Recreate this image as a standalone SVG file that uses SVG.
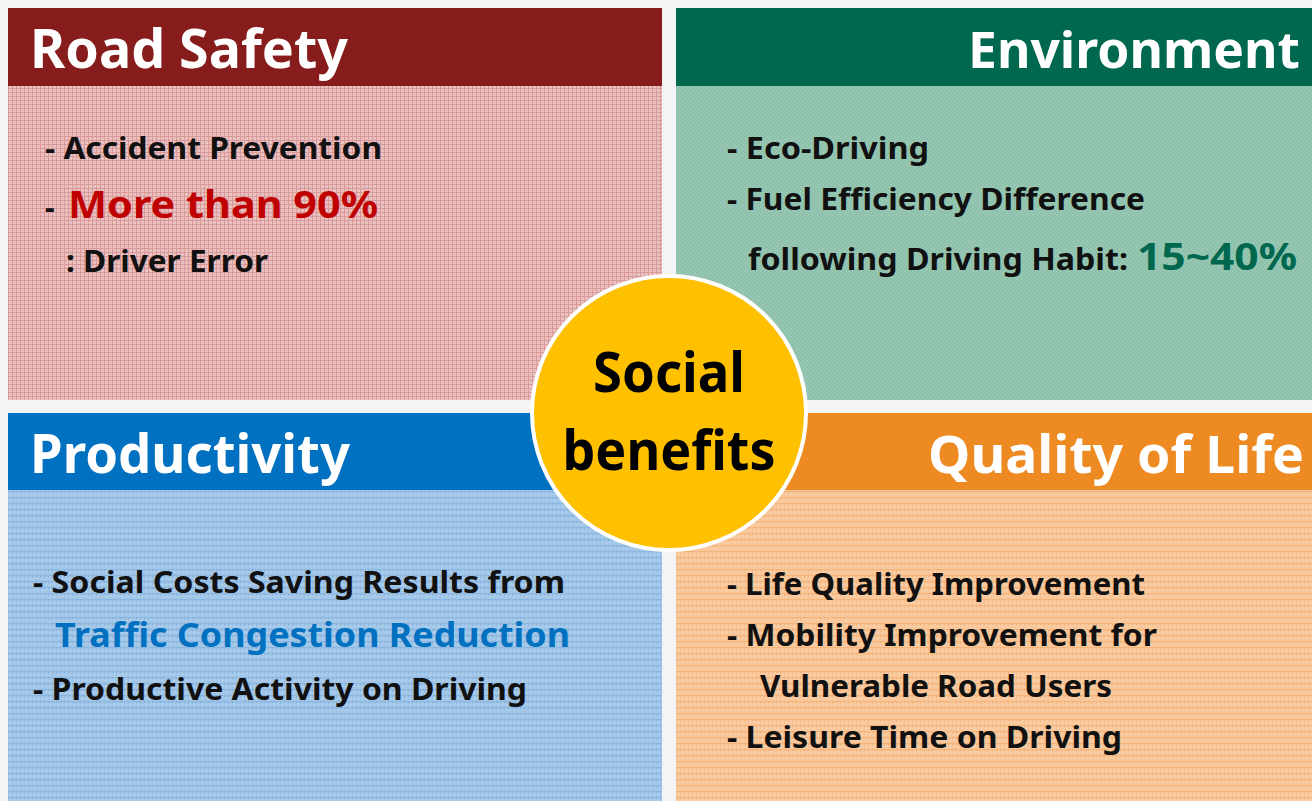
<svg xmlns="http://www.w3.org/2000/svg" width="1312" height="801" viewBox="0 0 1312 801">
<defs>
<pattern id="pPink" width="4" height="4" patternUnits="userSpaceOnUse">
<rect width="4" height="4" fill="#EBC0C0"/>
<rect x="0" y="0" width="4" height="1" fill="#D99A9A"/>
<rect x="0" y="0" width="1" height="4" fill="#D99A9A"/>
</pattern>
<pattern id="pGreen" width="4" height="4" patternUnits="userSpaceOnUse">
<rect width="4" height="4" fill="#97C7B3"/>
<rect x="0" y="0" width="2" height="2" fill="#8EC1AC"/>
<rect x="2" y="2" width="2" height="2" fill="#8EC1AC"/>
</pattern>
<pattern id="pBlue" width="4" height="6" patternUnits="userSpaceOnUse">
<rect width="4" height="6" fill="#A2C6E8"/>
<rect x="0" y="0" width="1" height="1" fill="#7FAEDC"/>
<rect x="2" y="2" width="1" height="1" fill="#C2DBF1"/>
<rect x="0" y="5" width="4" height="1" fill="#8BB6E0"/>
</pattern>
<pattern id="pOrange" width="4" height="6" patternUnits="userSpaceOnUse">
<rect width="4" height="6" fill="#F8C89C"/>
<rect x="0" y="0" width="1" height="1" fill="#F3AE6E"/>
<rect x="2" y="2" width="1" height="1" fill="#FBDABB"/>
<rect x="0" y="5" width="4" height="1" fill="#F4B47A"/>
</pattern>
</defs>
<style>
text { font-family: "Noto Sans", "Open Sans", "Liberation Sans", sans-serif; font-weight: bold; }
.hd { fill: #FFFFFF; font-size: 54px; }
.bd { fill: #111111; font-size: 30px; }
.big { font-size: 38px; }
.ctr { fill: #000000; font-size: 56px; text-anchor: middle; }
</style>
<rect width="1312" height="801" fill="#F4F4F6"/>

<g id="road-safety">
<rect x="8" y="86" width="654" height="314" fill="url(#pPink)"/>
<rect x="8" y="8" width="654" height="78" fill="#861C1C"/>
<text class="hd" x="30" y="68" textLength="318" lengthAdjust="spacingAndGlyphs">Road Safety</text>
<text class="bd" x="45" y="159" textLength="337" lengthAdjust="spacingAndGlyphs">- Accident Prevention</text>
<text class="bd" x="45" y="218">- </text>
<text class="bd big" x="68" y="218" style="fill:#C00000" textLength="310" lengthAdjust="spacingAndGlyphs">More than 90%</text>
<text class="bd" x="66" y="272" textLength="202" lengthAdjust="spacingAndGlyphs">: Driver Error</text>
</g>

<g id="environment">
<rect x="676" y="86" width="636" height="314" fill="url(#pGreen)"/>
<rect x="676" y="8" width="636" height="78" fill="#00684F"/>
<text class="hd" x="968" y="68" style="font-size:50px" textLength="332" lengthAdjust="spacingAndGlyphs">Environment</text>
<text class="bd" x="727" y="159" textLength="202" lengthAdjust="spacingAndGlyphs">- Eco-Driving</text>
<text class="bd" x="727" y="210" textLength="418" lengthAdjust="spacingAndGlyphs">- Fuel Efficiency Difference</text>
<text class="bd" x="748" y="270" textLength="380" lengthAdjust="spacingAndGlyphs">following Driving Habit:</text>
<text class="bd big" x="1137" y="270" style="fill:#00684F" textLength="160" lengthAdjust="spacingAndGlyphs">15~40%</text>
</g>

<g id="productivity">
<rect x="8" y="490" width="654" height="311" fill="url(#pBlue)"/>
<rect x="8" y="413" width="654" height="77" fill="#0070C0"/>
<text class="hd" x="30" y="473" textLength="320" lengthAdjust="spacingAndGlyphs">Productivity</text>
<text class="bd" x="33" y="593" textLength="532" lengthAdjust="spacingAndGlyphs">- Social Costs Saving Results from</text>
<text class="bd" x="55" y="647" style="fill:#0070C0;font-size:34px" textLength="515" lengthAdjust="spacingAndGlyphs">Traffic Congestion Reduction</text>
<text class="bd" x="33" y="700" textLength="494" lengthAdjust="spacingAndGlyphs">- Productive Activity on Driving</text>
</g>

<g id="quality-of-life">
<rect x="676" y="490" width="636" height="311" fill="url(#pOrange)"/>
<rect x="676" y="413" width="636" height="77" fill="#EE8A22"/>
<text class="hd" x="928" y="473" style="font-size:52px" textLength="376" lengthAdjust="spacingAndGlyphs">Quality of Life</text>
<text class="bd" x="727" y="595" textLength="418" lengthAdjust="spacingAndGlyphs">- Life Quality Improvement</text>
<text class="bd" x="727" y="646" textLength="430" lengthAdjust="spacingAndGlyphs">- Mobility Improvement for</text>
<text class="bd" x="760" y="697" textLength="352" lengthAdjust="spacingAndGlyphs">Vulnerable Road Users</text>
<text class="bd" x="727" y="748" textLength="395" lengthAdjust="spacingAndGlyphs">- Leisure Time on Driving</text>
</g>

<g id="social-benefits">
<circle cx="669" cy="413" r="137" fill="#FFC000" stroke="#FFFFFF" stroke-width="4"/>
<text class="ctr" x="669" y="392" textLength="152" lengthAdjust="spacingAndGlyphs">Social</text>
<text class="ctr" x="669" y="470" textLength="213" lengthAdjust="spacingAndGlyphs">benefits</text>
</g>
</svg>
